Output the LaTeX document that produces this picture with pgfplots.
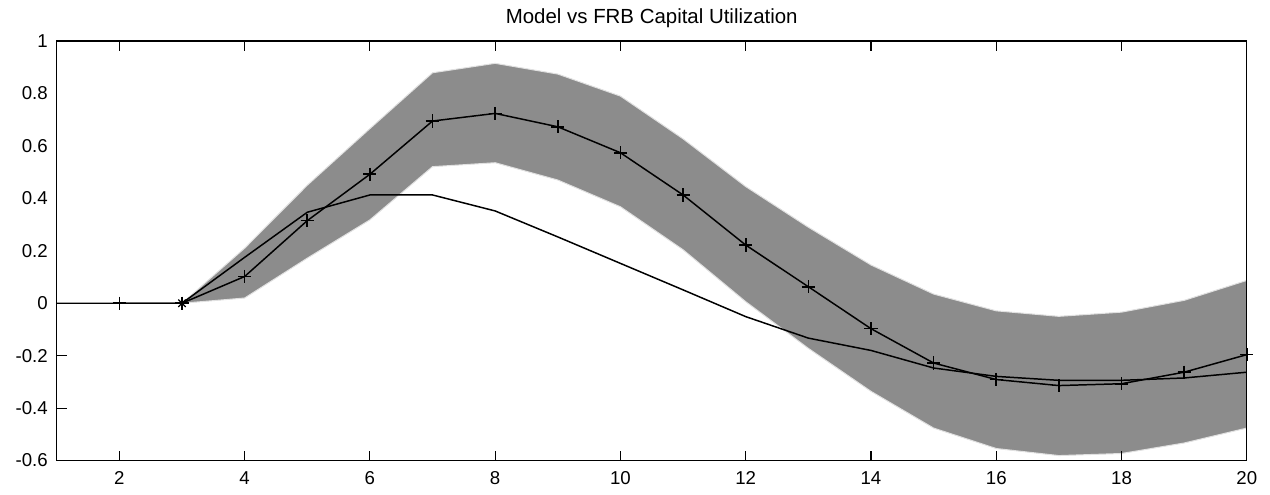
\documentclass[border=0pt]{standalone}
\usepackage{fontspec}
\setmainfont{Liberation Sans}
\usepackage{pgfplots}
\pgfplotsset{compat=1.18}
\usepgfplotslibrary{fillbetween}
\definecolor{bandgray}{RGB}{140,140,140}
\definecolor{edgegray}{RGB}{225,225,225}
\begin{document}
\begin{tikzpicture}
\begin{axis}[
  name=ax,
  scale only axis,
  width=600pt, height=211.5pt,
  xmin=1, xmax=20, ymin=-0.6, ymax=1,
  xtick={2,4,...,20},
  xticklabels={2,4,6,8,10,12,14,16,18,20},
  ytick={-0.4,-0.2},
  yticklabels={-0.4,-0.2},
  extra y ticks={-0.6,0,0.2,0.4,0.6,0.8,1},
  extra y tick labels={-0.6,0,0.2,0.4,0.6,0.8,1},
  extra y tick style={major tick length=0pt},
  xtick pos=both, ytick pos=left,
  tick align=inside,
  major tick length=5pt,
  tick style={black, line width=0.6pt},
  axis line style={black, line width=0.6pt},
  ticklabel style={font=\fontsize{9.4}{11}\selectfont},
  xticklabel style={yshift=-2pt},
  yticklabel style={xshift=-1pt},
  title={Model vs FRB Capital Utilization},
  title style={font=\fontsize{10.3}{12}\selectfont, yshift=-3pt},
  clip=false,
  axis on top,
]
\addplot[name path=up, draw=edgegray, line width=0.5pt] coordinates {
(3,0) (4,0.21) (5,0.45) (6,0.666) (7,0.879) (8,0.915) (9,0.874) (10,0.79)
(11,0.627) (12,0.445) (13,0.29) (14,0.146) (15,0.035) (16,-0.029) (17,-0.05)
(18,-0.034) (19,0.011) (20,0.087)};
\addplot[name path=lo, draw=edgegray, line width=0.5pt] coordinates {
(3,0) (4,0.02) (5,0.172) (6,0.318) (7,0.521) (8,0.536) (9,0.47) (10,0.368)
(11,0.204) (12,0.006) (13,-0.172) (14,-0.336) (15,-0.476) (16,-0.554) (17,-0.581)
(18,-0.573) (19,-0.533) (20,-0.476)};
\addplot[bandgray, draw=none] fill between[of=up and lo];
% model
\addplot[black, line width=0.75pt, mark=none] coordinates {
(1,0) (2,0) (3,0) (4,0.175) (5,0.347) (6,0.413) (7,0.413) (8,0.352) (9,0.253)
(10,0.152) (11,0.051) (12,-0.051) (13,-0.133) (14,-0.18) (15,-0.247) (16,-0.279)
(17,-0.294) (18,-0.294) (19,-0.285) (20,-0.263)};
% data
\addplot[black, line width=0.75pt, mark=+, mark size=3.3pt, mark options={line width=0.8pt}] coordinates {
(2,0) (3,0) (4,0.102) (5,0.315) (6,0.492) (7,0.695) (8,0.724) (9,0.673)
(10,0.574) (11,0.413) (12,0.222) (13,0.063) (14,-0.097) (15,-0.228) (16,-0.291)
(17,-0.314) (18,-0.307) (19,-0.263) (20,-0.196)};
\addplot[only marks, black, mark=x, mark size=2.6pt, mark options={line width=0.7pt}] coordinates {(3,0)};
\end{axis}
\pgfresetboundingbox
\useasboundingbox (-28.6pt,-17.3pt) rectangle (611.7pt,232.2pt);
\end{tikzpicture}
\end{document}
